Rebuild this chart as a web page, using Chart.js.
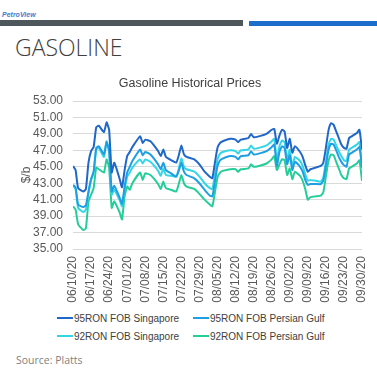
<!DOCTYPE html>
<html>
<head>
<meta charset="utf-8">
<title>Gasoline</title>
<script src="https://cdn.jsdelivr.net/npm/chart.js@4.4.1/dist/chart.umd.min.js"></script>
<style>
    html, body { margin: 0; padding: 0; background: #fff; width: 377px; height: 385px; overflow: hidden; }
    .brand { position: absolute; left: 2px; top: 11px; font: bold italic 7px 'Liberation Sans', Arial, sans-serif; color: #4a78c8; }
    .bar-gray { position: absolute; left: 0; top: 20px; width: 243px; height: 6px; background: #4d575c; }
    .bar-blue { position: absolute; left: 249px; top: 21px; width: 128px; height: 5px; background: #1b6fcb; }
    .heading { position: absolute; left: 15px; top: 36px; font: 300 23px/23px 'Open Sans', sans-serif; color: #404040; }
    .chart-box { position: absolute; left: 0; top: 68px; width: 377px; height: 241px; }
    .legend { position: absolute; left: 0; top: 311px; width: 377px; }
    .legend-item { position: absolute; height: 16px; font: 10px/16px 'Liberation Sans', Arial, sans-serif; color: #404040; white-space: nowrap; }
    .legend-item .swatch { display: inline-block; width: 16px; height: 2px; vertical-align: middle; margin-right: 1px; position: relative; top: -1px; }
    .source { position: absolute; left: 16px; top: 355px; font: 10.5px/11px 'Open Sans', sans-serif; color: #7f7f7f; }
</style>
</head>
<body>
<div class="brand">PetroView</div>
<div class="bar-gray"></div>
<div class="bar-blue"></div>
<div class="heading">GASOLINE</div>
<div class="chart-box"><canvas id="pricesChart"></canvas></div>
<div class="legend" id="legend"></div>
<div class="source">Source: Platts</div>

<script>
// Gasoline price history, $/b

const dates = [
    '06/10/20', '06/11/20', '06/12/20', '06/14/20', '06/15/20', '06/16/20', '06/17/20', '06/18/20', '06/19/20', '06/20/20',
    '06/22/20', '06/23/20', '06/24/20', '06/25/20', '06/26/20', '06/28/20', '06/29/20', '06/30/20',
    '07/01/20', '07/02/20', '07/03/20', '07/06/20', '07/07/20', '07/08/20', '07/10/20',
    '07/13/20', '07/14/20', '07/15/20', '07/16/20', '07/18/20', '07/20/20', '07/21/20', '07/22/20', '07/23/20', '07/24/20',
    '07/27/20', '07/29/20', '07/31/20', '08/02/20', '08/03/20', '08/04/20', '08/05/20', '08/06/20', '08/07/20',
    '08/10/20', '08/12/20', '08/13/20', '08/14/20', '08/17/20', '08/18/20', '08/19/20', '08/21/20',
    '08/24/20', '08/26/20', '08/27/20', '08/28/20', '08/29/20', '08/30/20', '08/31/20', '09/01/20', '09/02/20', '09/03/20', '09/04/20',
    '09/06/20', '09/07/20', '09/08/20', '09/09/20', '09/10/20', '09/12/20',
    '09/14/20', '09/15/20', '09/16/20', '09/17/20', '09/18/20', '09/19/20', '09/20/20', '09/21/20', '09/22/20', '09/23/20', '09/24/20', '09/25/20', '09/26/20',
    '09/28/20', '09/29/20', '09/30/20'
];

const ron95Singapore = [
    45.1, 44.6, 42.4, 42.0, 42.3, 45.5, 46.9, 47.4, 49.8, 50.0,
    49.2, 50.4, 49.5, 44.3, 45.5, 43.6, 42.5, 44.6,
    46.3, 46.8, 47.4, 48.7, 47.9, 48.3, 48.1,
    46.9, 46.3, 47.1, 46.2, 45.8, 45.5, 46.4, 47.6, 46.5, 46.2,
    45.9, 45.3, 44.4, 43.8, 43.6, 45.5, 47.3, 47.9, 48.1,
    48.4, 48.3, 48.0, 48.3, 48.5, 49.0, 48.6, 48.7,
    49.0, 49.5, 49.6, 47.8, 48.8, 49.5, 49.3, 47.3, 48.4, 46.7, 47.5,
    46.8, 46.2, 45.2, 44.4, 44.7, 44.9,
    45.1, 45.5, 47.3, 49.4, 50.3, 50.1, 49.3, 48.5, 47.7, 47.3, 47.2, 48.5, 48.7,
    49.1, 49.5, 47.1
];

const ron95PersianGulf = [
    42.8, 42.5, 40.4, 40.1, 40.3, 42.0, 43.5, 44.4, 47.3, 47.5,
    46.5, 48.0, 47.0, 42.0, 42.7, 41.3, 40.5, 42.6,
    44.3, 45.0, 45.7, 47.1, 46.4, 46.8, 46.5,
    45.3, 44.7, 45.5, 44.6, 44.2, 43.8, 44.5, 45.5, 44.4, 44.0,
    43.6, 43.0, 42.2, 41.5, 41.4, 43.2, 45.1, 45.8, 46.0,
    46.3, 46.2, 45.9, 46.3, 46.4, 46.9, 46.5, 46.6,
    46.9, 47.4, 47.7, 45.1, 46.8, 47.5, 47.3, 45.3, 46.4, 44.6, 45.6,
    45.0, 44.4, 43.4, 42.8, 42.9, 42.9,
    42.9, 43.3, 45.1, 47.0, 47.8, 47.7, 47.0, 46.2, 45.6, 45.2, 45.0, 46.5, 46.7,
    47.1, 47.4, 44.9
];

const ron92Singapore = [
    42.7, 42.3, 40.0, 39.5, 39.8, 41.8, 43.4, 44.3, 47.1, 47.3,
    46.2, 48.1, 46.8, 41.6, 42.2, 41.0, 40.2, 42.2,
    43.8, 44.3, 44.9, 45.9, 45.4, 45.9, 45.6,
    44.5, 43.9, 44.8, 44.0, 43.9, 43.8, 44.8, 46.0, 45.0, 44.7,
    44.4, 43.8, 43.0, 42.4, 42.3, 44.0, 45.9, 46.6, 46.8,
    47.0, 46.9, 46.6, 47.0, 47.1, 47.6, 47.2, 47.3,
    47.6, 48.1, 48.4, 45.8, 47.5, 48.2, 48.0, 45.9, 47.1, 45.0, 46.2,
    45.7, 45.1, 44.1, 43.3, 43.4, 43.3,
    43.2, 43.7, 45.6, 47.6, 48.4, 48.3, 47.6, 46.9, 46.3, 45.8, 45.7, 47.1, 47.3,
    47.7, 48.0, 45.2
];

const ron92PersianGulf = [
    40.2, 39.8, 38.0, 37.3, 37.5, 40.8, 41.6, 42.4, 44.9, 44.7,
    44.3, 45.9, 44.9, 40.0, 40.8, 39.5, 38.6, 41.4,
    42.6, 42.2, 43.0, 44.3, 43.4, 44.2, 44.0,
    42.9, 42.3, 43.2, 42.4, 42.2, 42.0, 42.9, 44.0, 43.0, 42.6,
    42.3, 41.7, 41.0, 40.4, 40.2, 41.9, 43.7, 44.3, 44.5,
    44.7, 44.7, 44.4, 44.7, 44.8, 45.3, 45.0, 45.1,
    45.4, 45.9, 46.3, 44.6, 45.3, 45.9, 45.8, 44.0, 44.8, 43.5, 44.4,
    43.9, 43.3, 42.3, 41.0, 41.3, 41.4,
    41.5, 41.9, 43.8, 45.7, 46.5, 46.4, 45.6, 44.8, 44.0, 43.6, 43.5, 44.8, 45.0,
    45.4, 45.8, 43.3
];

const seriesNames = ['95RON FOB Singapore', '95RON FOB Persian Gulf', '92RON FOB Singapore', '92RON FOB Persian Gulf'];
const seriesColors = ['#1f67c8', '#1e9fe3', '#33d6e6', '#25ce98'];

const yTicks = { min: 35, max: 53, step: 2 };
const xTickEveryDays = 7;

const startDay = Date.UTC(2020, 5, 10);
const DAY_MS = 24 * 60 * 60 * 1000;

function dayOffset(label) {
    const [mm, dd, yy] = label.split('/').map(Number);
    return Math.round((Date.UTC(2000 + yy, mm - 1, dd) - startDay) / DAY_MS);
}

function formatDay(offset) {
    const d = new Date(startDay + offset * DAY_MS);
    const mm = String(d.getUTCMonth() + 1).padStart(2, '0');
    const dd = String(d.getUTCDate()).padStart(2, '0');
    return `${mm}/${dd}/${String(d.getUTCFullYear()).slice(2)}`;
}

function toPoints(values) {
    return values.map((v, i) => ({ x: dayOffset(dates[i]), y: v }));
}

const allSeries = [ron95Singapore, ron95PersianGulf, ron92Singapore, ron92PersianGulf];
const lastDay = dayOffset(dates[dates.length - 1]);

Chart.defaults.font.family = "'Liberation Sans', Arial, sans-serif";

const ctx = document.getElementById('pricesChart').getContext('2d');
const chart = new Chart(ctx, {
    type: 'line',
    data: {
        datasets: allSeries.map((values, i) => ({
            label: seriesNames[i],
            data: toPoints(values),
            borderColor: seriesColors[i],
            backgroundColor: seriesColors[i],
            borderWidth: 2,
            pointRadius: 0,
            tension: 0.15,
            fill: false
        }))
    },
    options: {
        responsive: true,
        maintainAspectRatio: false,
        animation: false,
        layout: { padding: { left: 18, right: 15, top: 0, bottom: 0 } },
        plugins: {
            title: {
                display: true,
                text: 'Gasoline Historical Prices',
                color: '#404040',
                font: { size: 12.5, weight: 'normal' },
                padding: { top: 8, bottom: 10 }
            },
            legend: { display: false },
            tooltip: { enabled: false }
        },
        scales: {
            x: {
                type: 'linear',
                min: 0,
                max: lastDay,
                grid: { display: false, drawTicks: false },
                border: { display: false },
                ticks: {
                    stepSize: xTickEveryDays,
                    autoSkip: false,
                    minRotation: 90,
                    maxRotation: 90,
                    padding: 7,
                    color: '#595959',
                    font: { size: 12 },
                    callback: v => formatDay(v)
                },
                afterFit: scale => {
                    scale.height = 60;
                    // the last rotated label fits in the layout padding on the right
                    scale.paddingRight = 0;
                }
            },
            y: {
                min: yTicks.min,
                max: yTicks.max,
                grid: { color: '#d9d9d9', drawTicks: false },
                border: { display: false },
                ticks: {
                    stepSize: yTicks.step,
                    autoSkip: false,
                    padding: 10,
                    color: '#595959',
                    font: { size: 12 },
                    callback: v => v.toFixed(2)
                },
                title: {
                    display: true,
                    text: '$/b',
                    color: '#595959',
                    font: { size: 12 },
                    padding: { top: 1, bottom: 0 }
                },
                afterFit: scale => { scale.width = 55; }
            }
        }
    }
});

// Legend: two columns, two rows, as in the original
function buildLegend(chart) {
    const columnLeft = [57, 193];
    const rowTop = [0, 18];
    document.getElementById('legend').innerHTML = chart.data.datasets.map((ds, i) => `
        <div class="legend-item" style="left:${columnLeft[i % 2]}px; top:${rowTop[Math.floor(i / 2)]}px">
            <span class="swatch" style="background:${ds.borderColor}"></span>${ds.label}
        </div>
    `).join('');
}

buildLegend(chart);
</script>
</body>
</html>
